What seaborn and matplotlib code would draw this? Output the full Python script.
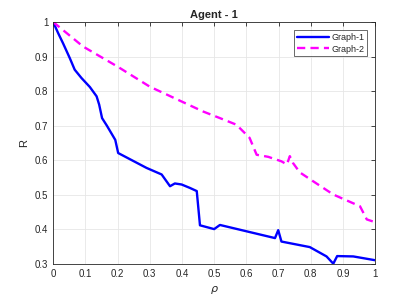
import numpy as np
import pandas as pd
import matplotlib
matplotlib.use("Agg")
import matplotlib.pyplot as plt
import seaborn as sns
from matplotlib.ticker import FormatStrFormatter, MultipleLocator

# Graph-1 (solid blue)
rho_1 = [0.0, 0.016, 0.031, 0.052, 0.067, 0.088, 0.114, 0.135, 0.143, 0.152, 0.167,
         0.193, 0.202, 0.29, 0.337, 0.363, 0.378, 0.399, 0.425, 0.446, 0.456, 0.5,
         0.518, 0.689, 0.699, 0.709, 0.797, 0.849, 0.87, 0.882, 0.932, 1.0]
r_1 = [1.0, 0.967, 0.938, 0.895, 0.862, 0.838, 0.812, 0.785, 0.761, 0.722, 0.70,
       0.659, 0.621, 0.578, 0.559, 0.525, 0.533, 0.53, 0.52, 0.511, 0.412, 0.401,
       0.413, 0.375, 0.398, 0.365, 0.349, 0.322, 0.301, 0.323, 0.322, 0.311]

# Graph-2 (dashed magenta)
rho_2 = [0.0, 0.093, 0.2, 0.3, 0.466, 0.518, 0.569, 0.61, 0.632, 0.668, 0.709,
         0.726, 0.735, 0.745, 0.766, 0.808, 0.87, 0.953, 0.974, 1.0]
r_2 = [1.0, 0.929, 0.871, 0.813, 0.741, 0.722, 0.703, 0.665, 0.616, 0.61, 0.597,
       0.588, 0.612, 0.592, 0.565, 0.539, 0.501, 0.467, 0.429, 0.421]

df = pd.concat([
    pd.DataFrame({"rho": rho_1, "R": r_1, "graph": "Graph-1"}),
    pd.DataFrame({"rho": rho_2, "R": r_2, "graph": "Graph-2"}),
])

sns.set_style("white")
plt.rcParams["font.family"] = ["Liberation Sans", "DejaVu Sans"]

fig = plt.figure(figsize=(4.15, 2.97), dpi=100)
ax = fig.add_axes([0.128, 0.111, 0.776, 0.815])

sns.lineplot(data=df, x="rho", y="R", hue="graph", style="graph",
             palette={"Graph-1": "#0000ff", "Graph-2": "#ff00ff"},
             dashes={"Graph-1": "", "Graph-2": (3.5, 2.2)},
             linewidth=1.7, sort=False, estimator=None, ax=ax)

ax.set_xlim(0, 1)
ax.set_ylim(0.3, 1)
ax.xaxis.set_major_locator(MultipleLocator(0.1))
ax.yaxis.set_major_locator(MultipleLocator(0.1))
ax.xaxis.set_major_formatter(FormatStrFormatter("%g"))
ax.yaxis.set_major_formatter(FormatStrFormatter("%g"))
ax.grid(True, color="#e6e6e6", linewidth=0.6)
ax.tick_params(direction="in", length=3, width=0.6, labelsize=7, colors="#262626",
               top=True, right=True)
for s in ax.spines.values():
    s.set_color("#262626")
    s.set_linewidth(0.6)

ax.set_title("Agent - 1", fontsize=8, fontweight="bold", pad=3)
ax.set_xlabel(r"$\rho$", fontsize=8)
ax.set_ylabel("R", fontsize=8)

leg = ax.legend(loc="upper right", fontsize=6.5, frameon=True, fancybox=False,
                edgecolor="#262626", handlelength=3.5, borderpad=0.3,
                labelspacing=0.3, handletextpad=0.3, borderaxespad=0.9)
leg.get_frame().set_linewidth(0.6)

fig.savefig("out.png", dpi=100)
